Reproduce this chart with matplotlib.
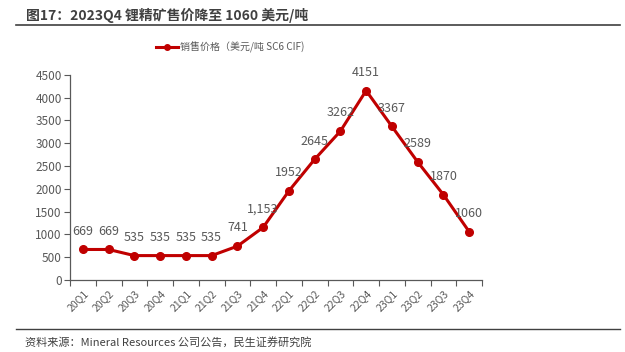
import matplotlib
matplotlib.use("Agg")
import matplotlib.pyplot as plt
from matplotlib.lines import Line2D

plt.rcParams['font.family'] = ['Noto Sans CJK SC', 'DejaVu Sans']

quarters = ["20Q1", "20Q2", "20Q3", "20Q4", "21Q1", "21Q2", "21Q3", "21Q4",
            "22Q1", "22Q2", "22Q3", "22Q4", "23Q1", "23Q2", "23Q3", "23Q4"]
prices = [669, 669, 535, 535, 535, 535, 741, 1153, 1952, 2645, 3262, 4151, 3367, 2589, 1870, 1060]
labels = ["669", "669", "535", "535", "535", "535", "741", "1,153", "1952", "2645", "3262",
          "4151", "3367", "2589", "1870", "1060"]
yticks = [0, 500, 1000, 1500, 2000, 2500, 3000, 3500, 4000, 4500]

red = "#C00000"
gray = "#595959"

fig = plt.figure(figsize=(6.25, 3.52), dpi=100)
ax = fig.add_axes([70/625, 1-280/352, (482-70)/625, (280-74.7)/352])

x = list(range(len(quarters)))
ax.plot(x, prices, color=red, lw=2.2, marker='o', ms=5.5, zorder=3)
for xi, yi, lab in zip(x, prices, labels):
    ax.annotate(lab, (xi, yi), xytext=(0, 8.5), textcoords='offset points',
                ha='center', va='bottom', fontsize=9, color=gray)

ax.set_xlim(-0.5, len(quarters) - 0.5)
ax.set_ylim(0, 4500)
ax.set_yticks(yticks)
ax.set_yticklabels([str(v) for v in yticks], fontsize=8.5, color=gray)
ax.set_xticks([i - 0.5 for i in range(len(quarters) + 1)])
ax.set_xticklabels([])
ax.set_xticks(x, minor=True)
ax.set_xticklabels(quarters, minor=True, rotation=45, ha='right', rotation_mode='anchor',
                   fontsize=7.5, color=gray)
ax.tick_params(axis='x', which='minor', length=0, pad=6)
ax.tick_params(axis='x', which='major', length=4, color=gray, width=0.8, direction='out')
ax.tick_params(axis='y', length=4, color=gray, width=0.8, pad=2)
for s in ['top', 'right']:
    ax.spines[s].set_visible(False)
for s in ['left', 'bottom']:
    ax.spines[s].set_color(gray)
    ax.spines[s].set_linewidth(0.9)

handle = Line2D([], [], color=red, lw=2.2, marker='o', ms=4)
fig.legend([handle], ["销售价格（美元/吨 SC6 CIF)"], loc='center', bbox_to_anchor=(230/625, 1-47/352),
           frameon=False, fontsize=7.2, handlelength=2.2, handletextpad=0.2, labelcolor=gray)

fig.text(26/625, 1-15/352, "图17：2023Q4 锂精矿售价降至 1060 美元/吨", fontsize=10,
         fontweight='bold', color='#404040', va='center', ha='left')
fig.add_artist(Line2D([16/625, 620/625], [1-25/352, 1-25/352], color='#404040', lw=1.2))
fig.add_artist(Line2D([16/625, 620/625], [1-329/352, 1-329/352], color='#404040', lw=1.0))
fig.text(25/625, 1-342/352, "资料来源：Mineral Resources 公司公告，民生证券研究院", fontsize=8,
         color='#404040', va='center', ha='left')

fig.savefig("out.png", dpi=100)
